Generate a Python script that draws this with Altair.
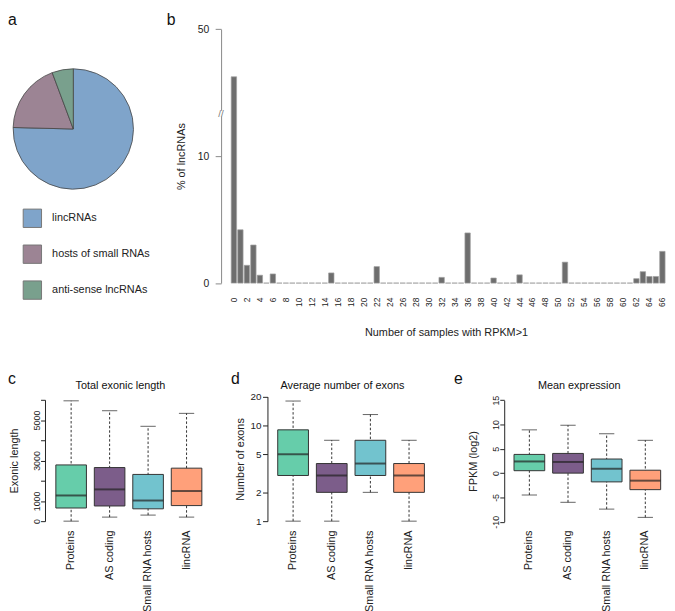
import altair as alt
import pandas as pd

FONT = "Liberation Sans"
W, H = 667, 603

# ---------------- data ----------------
# panel a
pie_types = ["lincRNAs", "hosts of small RNAs", "anti-sense lncRNAs"]
pie_share = [75.4, 18.9, 5.7]
pie_colors = ["#7FA4CA", "#9C8494", "#79A08D"]

# panel b
samples = list(range(67))
pct_lnc = [
    35.0, 4.2, 1.4, 3.0, 0.62, 0, 0.72, 0, 0, 0,
    0, 0, 0, 0, 0, 0.8, 0, 0, 0, 0,
    0, 0, 1.3, 0, 0, 0, 0, 0, 0, 0,
    0, 0, 0.45, 0, 0, 0, 3.95, 0, 0, 0,
    0.4, 0, 0, 0, 0.65, 0, 0, 0, 0, 0,
    0, 1.65, 0, 0, 0, 0, 0, 0, 0, 0,
    0, 0, 0.35, 0.9, 0.52, 0.52, 2.5,
]

# panels c, d, e
groups = ["Proteins", "AS coding", "Small RNA hosts", "lincRNA"]
box_colors = ["#66CDAA", "#7C5D8A", "#72C3CE", "#FFA07A"]

len_lower = [0, 200, 300, 200]
len_q1 = [650, 750, 610, 770]
len_med = [1270, 1570, 1020, 1490]
len_q3 = [2780, 2650, 2310, 2620]
len_upper = [5950, 5460, 4690, 5330]

exon_lower = [1, 1, 2, 1]
exon_q1 = [3, 2, 3, 2]
exon_med = [5, 3, 4, 3]
exon_q3 = [9, 4, 7, 4]
exon_upper = [18, 7, 13, 7]

expr_lower = [-4.5, -6.0, -7.4, -9.1]
expr_q1 = [0.5, 0.0, -1.8, -3.4]
expr_med = [2.4, 2.3, 0.9, -1.55]
expr_q3 = [3.85, 4.05, 2.9, 0.6]
expr_upper = [8.9, 9.85, 8.1, 6.75]

one = alt.InlineData(values=[{}])

# ---------------- panel a ----------------
pie_df = pd.DataFrame({"type": pie_types, "share": pie_share, "k": [0, 1, 2]})
pie = alt.Chart(pie_df).mark_arc(radius=61, stroke="#444", strokeWidth=0.8).encode(
    theta=alt.Theta("share:Q", stack=True),
    order=alt.Order("k:Q"),
    color=alt.Color(
        "type:N",
        scale=alt.Scale(domain=pie_types, range=pie_colors),
        legend=alt.Legend(
            title=None, orient="none", legendX=14.7, legendY=194, direction="vertical",
            symbolType="square", symbolSize=346, symbolStrokeColor="#777",
            symbolStrokeWidth=1, symbolOpacity=1, labelFontSize=11, labelFont=FONT,
            labelColor="#222", labelOffset=10, rowPadding=12.4, padding=0,
        ),
    ),
    x=alt.value(66.2),
    y=alt.value(113.5),
)

# ---------------- panel b ----------------
b_df = pd.DataFrame({"n": samples, "pct": pct_lnc})
bars_b = alt.Chart(b_df).transform_calculate(
    yv="datum.pct <= 10 ? datum.pct : 10 + (datum.pct - 10) / 4"
).mark_bar(color="#6E6E6E", stroke="#A0A0A0", strokeWidth=0.7).encode(
    x=alt.X(
        "n:O",
        scale=alt.Scale(range=[225.7, 666.6], paddingInner=0.17, paddingOuter=0.085),
        axis=alt.Axis(
            orient="bottom", offset=280 - H, domain=False, ticks=False,
            labelAngle=270, labelAlign="right", labelBaseline="middle",
            labelPadding=4, labelFontSize=8.5, labelOverlap=False,
            labelExpr="datum.value % 2 == 0 ? datum.label : ''",
            title="Number of samples with RPKM>1", titleFontSize=11,
            titleX=444, titleY=40, titleAlign="center", titleBaseline="middle",
        ),
    ),
    y=alt.Y(
        "yv:Q",
        scale=alt.Scale(domain=[0, 20], range=[269.7, 12.3], nice=False),
        axis=alt.Axis(
            orient="left", offset=-216, values=[0, 10, 20],
            labelExpr="datum.value == 20 ? '50' : '' + datum.value",
            tickSize=6, labelPadding=6.5, labelFontSize=10.5, labelOverlap=False,
            domainColor="#888", tickColor="#888",
            title="% of lncRNAs", titleFontSize=11, titleAngle=270,
            titleX=-40, titleY=141, titleAlign="center", titleBaseline="middle",
        ),
    ),
)

brk_rect = alt.Chart(one).mark_rect(color="white").encode(
    x=alt.value(213), x2=alt.value(219), y=alt.value(95), y2=alt.value(101)
)
brk_text = alt.Chart(one).mark_text(
    text="//", font=FONT, fontSize=10, color="#777", align="center", baseline="middle"
).encode(x=alt.value(216), y=alt.value(98))


# ---------------- panels c, d, e ----------------
def box_panel(lower, q1, med, q3, upper, yscale, yaxis, xrange):
    df = pd.DataFrame({"group": groups, "lower": lower, "q1": q1,
                       "median": med, "q3": q3, "upper": upper})
    xenc = alt.X(
        "group:N", sort=groups,
        scale=alt.Scale(domain=groups, range=xrange, paddingInner=0.205, paddingOuter=0.1025),
        axis=alt.Axis(
            orient="bottom", offset=515 - H, domain=False, ticks=False,
            labelAngle=270, labelAlign="right", labelBaseline="middle",
            labelPadding=5, labelFontSize=11, labelOverlap=False, title=None,
        ),
    )
    base = alt.Chart(df)
    whisk = base.mark_rule(color="#333", strokeDash=[2.5, 2], strokeWidth=1).encode(
        x=xenc, y=alt.Y("lower:Q", scale=yscale, axis=yaxis), y2=alt.Y2("upper:Q")
    )
    box = base.mark_bar(stroke="#333", strokeWidth=1).encode(
        x=xenc, y=alt.Y("q1:Q", scale=yscale, axis=yaxis), y2=alt.Y2("q3:Q"),
        color=alt.Color("group:N", scale=alt.Scale(domain=groups, range=box_colors), legend=None),
    )
    medt = base.mark_tick(color="#222", thickness=2, size=31).encode(
        x=xenc, y=alt.Y("median:Q", scale=yscale, axis=yaxis)
    )
    lo = base.mark_tick(color="#222", thickness=1, size=15.5).encode(
        x=xenc, y=alt.Y("lower:Q", scale=yscale, axis=yaxis)
    )
    hi = base.mark_tick(color="#222", thickness=1, size=15.5).encode(
        x=xenc, y=alt.Y("upper:Q", scale=yscale, axis=yaxis)
    )
    return alt.layer(whisk, box, medt, lo, hi)


ax_c = alt.Axis(
    orient="left", offset=-37.5, values=[0, 1000, 2000, 3000, 4000, 5000, 6000],
    labelExpr="indexof([0, 1000, 3000, 5000], datum.value) >= 0 ? '' + datum.value : ''",
    labelAngle=270, labelAlign="center", labelBaseline="alphabetic",
    tickSize=4.5, labelPadding=1.5, labelFontSize=9, labelOverlap=False,
    title="Exonic length", titleFontSize=11, titleAngle=270,
    titleX=-30.5, titleY=449.5, titleAlign="center", titleBaseline="middle",
)
panel_c = box_panel(
    len_lower, len_q1, len_med, len_q3, len_upper,
    alt.Scale(domain=[0, 6000], range=[511, 388], nice=False, zero=False),
    ax_c, [44.5, 200.5],
)

ax_d = alt.Axis(
    orient="left", offset=-263, values=[1, 2, 5, 10, 20],
    labelExpr="'' + datum.value", labelAlign="right", labelBaseline="middle",
    tickSize=5, labelPadding=1.5, labelFontSize=10, labelOverlap=False,
    title="Number of exons", titleFontSize=11, titleAngle=270,
    titleX=-27, titleY=448, titleAlign="center", titleBaseline="middle",
)
panel_d = box_panel(
    exon_lower, exon_q1, exon_med, exon_q3, exon_upper,
    alt.Scale(type="log", domain=[1, 20], range=[511, 384.8], nice=False),
    ax_d, [269.4, 426.1],
)

ax_e = alt.Axis(
    orient="left", offset=-503, values=[-10, -5, 0, 5, 10, 15],
    labelExpr="'' + datum.value",
    labelAngle=270, labelAlign="center", labelBaseline="alphabetic",
    tickSize=4.5, labelPadding=1.5, labelFontSize=9, labelOverlap=False,
    title="FPKM (log2)", titleFontSize=11, titleAngle=270,
    titleX=-31, titleY=450, titleAlign="center", titleBaseline="middle",
)
panel_e = box_panel(
    expr_lower, expr_q1, expr_med, expr_q3, expr_upper,
    alt.Scale(domain=[-10, 15], range=[511.6, 388.4], nice=False, zero=False),
    ax_e, [508.9, 665.6],
)

# ---------------- text annotations ----------------
def label(txt, x, y, size, align="left"):
    return alt.Chart(one).mark_text(
        text=txt, font=FONT, fontSize=size, color="#111", align=align, baseline="alphabetic"
    ).encode(x=alt.value(x), y=alt.value(y))


texts = [
    label("a", 0, 8, 16),
    label("b", 161, 8, 16),
    label("c", 0, 372, 16),
    label("d", 226, 372, 16),
    label("e", 452, 372, 16),
    label("Total exonic length", 114, 377, 11, "center"),
    label("Average number of exons", 339, 377, 11, "center"),
    label("Mean expression", 579, 377, 11, "center"),
]

chart = (
    alt.layer(pie, bars_b, brk_rect, brk_text, panel_c, panel_d, panel_e, *texts)
    .resolve_scale(x="independent", y="independent", color="independent")
    .properties(width=W, height=H, padding=0)
    .configure_view(strokeWidth=0)
    .configure_axis(
        grid=False, labelFont=FONT, titleFont=FONT, labelColor="#222", titleColor="#222",
        titleFontWeight="normal", domainColor="#222", tickColor="#222",
    )
)

chart.save("out.html", embed_options={"renderer": "svg", "actions": False})
